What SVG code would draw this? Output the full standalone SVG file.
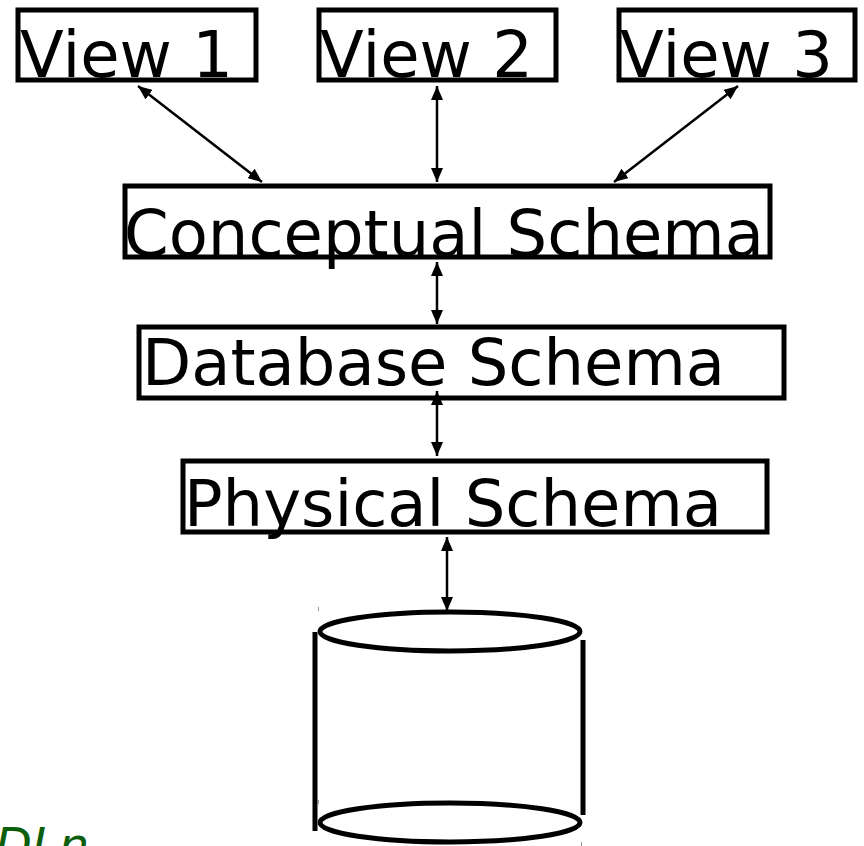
<svg xmlns="http://www.w3.org/2000/svg" width="864" height="846" viewBox="0 0 864 846">
  <style>
    .box { fill: #ffffff; stroke: #000000; stroke-width: 5; }
    .label { font-family: "DejaVu Sans", "Liberation Sans", sans-serif; font-size: 64px; fill: #000000; }
    .link { stroke: #000000; stroke-width: 2.5; fill: none; marker-start: url(#head); marker-end: url(#head); }
    .drum { fill: none; stroke: #000000; stroke-width: 5; }
    .tick { stroke: #9a9a9a; stroke-width: 1; }
    .note { font-family: "DejaVu Sans", "Liberation Sans", sans-serif; font-size: 48px; font-style: italic; fill: #0b5e0b; }
  </style>
  <defs>
    <marker id="head" markerUnits="userSpaceOnUse" markerWidth="14" markerHeight="12" viewBox="0 0 14 12" refX="14" refY="6" orient="auto-start-reverse">
      <path d="M0,0 L14,6 L0,12 z" fill="#000000"/>
    </marker>
  </defs>

  <rect width="864" height="846" fill="#ffffff"/>

  <!-- external views -->
  <g id="view1">
    <rect class="box" x="18" y="10" width="238" height="70"/>
    <text class="label" x="20" y="77">View 1</text>
  </g>
  <g id="view2">
    <rect class="box" x="319" y="10" width="237" height="70"/>
    <text class="label" x="320" y="77">View 2</text>
  </g>
  <g id="view3">
    <rect class="box" x="619" y="10" width="236" height="70"/>
    <text class="label" x="620" y="77">View 3</text>
  </g>

  <!-- schema levels -->
  <g id="conceptual">
    <rect class="box" x="125" y="186" width="645" height="71"/>
    <text class="label" x="124" y="256">Conceptual Schema</text>
  </g>
  <g id="database">
    <rect class="box" x="139" y="327" width="645" height="71"/>
    <text class="label" x="142" y="385">Database Schema</text>
  </g>
  <g id="physical">
    <rect class="box" x="183" y="461" width="584" height="71"/>
    <text class="label" x="184" y="526">Physical Schema</text>
  </g>

  <!-- storage drum -->
  <g id="storage">
    <ellipse class="drum" cx="450" cy="631.5" rx="130" ry="19.5"/>
    <line class="drum" x1="315" y1="632" x2="315" y2="831"/>
    <line class="drum" x1="583" y1="640" x2="583" y2="815"/>
    <ellipse class="drum" cx="450" cy="822.5" rx="130" ry="19.5"/>
    <line class="tick" x1="318.5" y1="607" x2="318.5" y2="611"/>
    <line class="tick" x1="318.5" y1="800" x2="318.5" y2="804"/>
    <line class="tick" x1="581.5" y1="842" x2="581.5" y2="846"/>
  </g>

  <!-- two-way connectors -->
  <g id="connectors">
    <line class="link" x1="138" y1="86" x2="262" y2="182"/>
    <line class="link" x1="437" y1="86" x2="437" y2="182"/>
    <line class="link" x1="738" y1="86" x2="614" y2="182"/>
    <line class="link" x1="437" y1="262" x2="437" y2="324"/>
    <line class="link" x1="437" y1="391" x2="437" y2="456"/>
    <line class="link" x1="447" y1="537" x2="447" y2="611"/>
  </g>

  <g id="note">
    <text class="note" x="-5" y="862">DLn</text>
  </g>
</svg>
